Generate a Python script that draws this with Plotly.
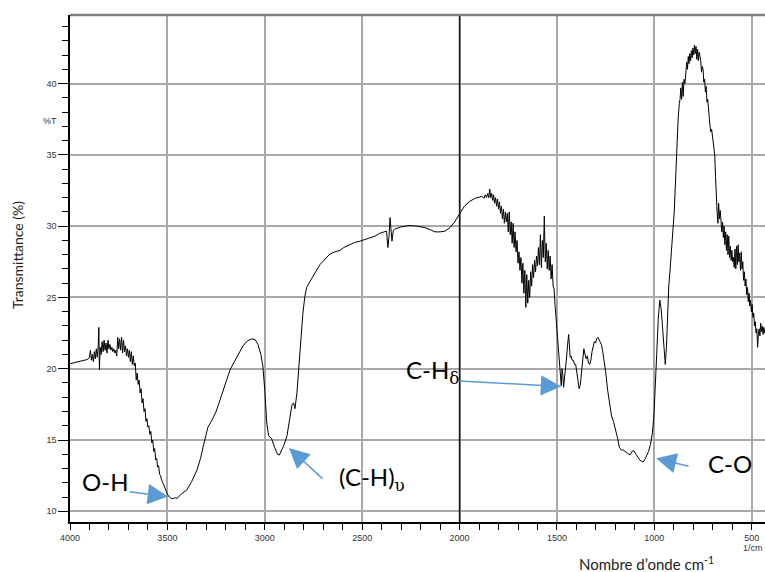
import plotly.graph_objects as go

# IR spectrum: wavenumber (cm-1) and transmittance (%T)
wavenumber = [
    4000, 3985, 3965, 3945, 3925, 3910, 3900, 3895, 3890, 3885, 3880, 3875, 3870, 3865, 3860, 3855,
    3852, 3849, 3845, 3840, 3835, 3830, 3825, 3820, 3815, 3810, 3805, 3800, 3795, 3790, 3785, 3780,
    3775, 3770, 3765, 3760, 3755, 3750, 3745, 3740, 3735, 3730, 3725, 3720, 3715, 3710, 3705, 3700,
    3695, 3690, 3685, 3680, 3675, 3670,
    3665, 3660, 3655, 3650, 3645, 3640, 3635, 3630, 3625, 3620, 3615, 3610, 3605, 3600, 3595, 3590,
    3585, 3580, 3575, 3570, 3565, 3560, 3555, 3550, 3545, 3540, 3535, 3530, 3520, 3510, 3500, 3490,
    3480, 3470, 3460, 3450, 3440, 3430, 3400, 3375, 3348, 3330, 3317, 3300, 3292, 3271, 3250, 3230,
    3205, 3179, 3160, 3143, 3112, 3090, 3066, 3050, 3035, 3020, 3010, 3000, 2990, 2980, 2965, 2950,
    2935, 2925, 2912, 2900, 2886, 2870, 2860, 2852, 2845, 2835, 2825, 2815, 2805, 2795, 2785, 2773,
    2753, 2735, 2717, 2690, 2665, 2640, 2614, 2595, 2578, 2560, 2540, 2511, 2480, 2450, 2434, 2410,
    2390, 2375, 2368, 2362, 2357, 2352, 2347, 2340, 2332, 2300, 2255, 2220, 2178, 2150, 2126, 2100,
    2075, 2049, 2025, 1998, 1975, 1947, 1920, 1895,
    1885, 1875, 1868, 1862, 1855, 1850, 1845, 1840, 1835, 1830, 1825, 1820, 1815, 1810, 1805, 1800,
    1795, 1790, 1785, 1780, 1775, 1770, 1765, 1760, 1755, 1750, 1745, 1740, 1735, 1730, 1725, 1720,
    1715, 1710, 1705, 1700, 1695, 1690, 1685, 1680, 1675, 1670, 1665, 1660, 1655, 1650, 1645, 1640,
    1635, 1630, 1625, 1620, 1615, 1610, 1605, 1600, 1595, 1590, 1585, 1580, 1575, 1570, 1565, 1560,
    1555, 1550, 1545, 1540, 1535, 1530, 1525, 1520, 1515, 1510, 1500, 1492, 1485, 1478, 1474, 1470,
    1466, 1462, 1458, 1452, 1446, 1440, 1436, 1432, 1428, 1422, 1416, 1410, 1404, 1398, 1392, 1386,
    1380, 1374, 1368, 1362, 1356, 1350, 1344, 1338, 1332, 1326, 1320, 1314, 1308, 1302, 1296, 1290,
    1284, 1278, 1272, 1266, 1260, 1250, 1240, 1230, 1220, 1210, 1200, 1190, 1180, 1170, 1160, 1150,
    1142, 1134, 1125, 1115, 1105, 1095, 1085, 1075, 1065, 1058, 1050, 1040, 1030, 1020, 1010, 1002,
    995, 988, 980, 972, 965, 958, 950, 944, 938, 932, 926, 920, 912, 905, 898, 890,
    884, 878, 872, 868, 864, 860, 856, 852, 848, 843, 838, 834, 830, 826, 822, 818,
    814, 810, 806, 802, 798, 794, 790, 786, 782, 778, 774, 770, 766, 762, 758, 754,
    750, 746, 742, 738, 734, 730, 726, 722, 718, 714, 710, 706, 702, 698, 694, 690,
    686, 682, 678, 674, 670, 666, 662, 658, 654, 650, 646, 642, 638, 634, 630, 626,
    622, 618, 614, 610, 606, 602, 598, 594, 590, 586, 582, 578, 574, 570, 566, 562,
    558, 554, 550, 546, 542, 538, 534, 530, 526, 522, 518, 514, 510, 506, 502, 498,
    494, 490, 486, 482, 478, 474, 470, 466, 462, 458, 454, 450, 446, 442, 438, 434, 430,
]

transmittance = [
    20.35, 20.4, 20.45, 20.5, 20.6, 20.65, 20.8, 21.3, 20.6, 21.0, 20.5, 21.2, 20.7, 21.4, 20.8, 21.6,
    22.9, 19.95, 21.5, 21.0, 21.9, 21.2, 22.0, 21.3, 21.8, 21.1, 22.0, 21.4, 21.7, 21.3, 21.5, 21.2,
    21.4, 21.1, 21.3, 20.9, 22.2, 21.4, 22.1, 21.3, 22.2, 21.1, 22.0, 21.2, 21.6, 20.9, 21.4, 20.8,
    21.3, 20.5, 21.2, 20.3, 20.9, 20.2,
    20.4, 19.2, 19.7, 18.9, 19.2, 18.3, 18.6, 17.6, 17.9, 17.0, 17.2, 16.3, 16.5, 15.9, 16.0, 15.4,
    15.6, 14.8, 15.0, 14.2, 14.4, 13.6, 13.7, 13.1, 13.2, 12.6, 12.5, 12.2, 11.9, 11.5, 11.2, 11.0,
    10.9, 10.9, 10.95, 10.9, 11.05, 11.2, 11.5, 12.1, 12.9, 13.7, 14.5, 15.4, 15.9, 16.4, 17.0, 17.8,
    18.9, 19.9, 20.4, 20.8, 21.6, 21.95, 22.1, 22.05, 21.7, 21.0, 20.2, 18.5, 16.2, 15.3, 15.1, 14.5,
    14.0, 13.95, 14.3, 14.7, 15.3, 16.6, 17.5, 17.6, 17.2, 18.3, 20.3, 22.2, 23.8, 25.0, 25.7, 26.0,
    26.5, 26.9, 27.3, 27.7, 28.05, 28.2, 28.3, 28.5, 28.6, 28.75, 28.85, 28.95, 29.1, 29.25, 29.3, 29.5,
    29.6, 29.65, 28.5, 29.3, 30.6, 29.4, 28.95, 29.7, 29.8, 29.95, 30.05, 30.0, 29.9, 29.75, 29.6, 29.6,
    29.65, 29.9, 30.3, 30.9, 31.4, 31.75, 31.95, 32.05,
    32.1, 31.95, 32.2, 32.0, 32.3, 32.0, 32.6, 32.0, 32.3, 31.8, 32.2, 31.6, 32.0, 31.4, 31.9, 31.2,
    31.7, 30.9, 31.4, 30.5, 31.2, 30.2, 31.0, 30.3, 30.9, 29.6, 31.0, 29.4, 30.3, 28.8, 30.2, 28.5,
    29.6, 28.2, 29.0, 27.4, 28.2, 26.9, 27.8, 26.0, 27.4, 25.3, 26.9, 24.3, 26.6, 24.6, 26.2, 25.0,
    26.8, 25.8, 27.3, 26.4, 27.6, 26.8, 27.9, 27.2, 28.5, 27.3, 29.4, 27.1, 29.0, 27.8, 30.7, 27.5,
    28.8, 27.0, 28.3, 26.9, 27.9, 26.3, 27.3, 25.8, 25.6, 24.5, 22.8, 21.3, 20.0, 18.8, 20.0, 19.6,
    18.7, 19.4, 20.2, 20.6, 21.6, 22.4, 21.6, 20.8, 20.9, 20.6, 20.6, 20.3, 20.3, 19.8, 19.0, 18.6,
    18.9, 19.8, 20.8, 21.4, 21.0, 20.7, 20.9, 20.4, 20.3, 20.6, 21.2, 21.5, 21.9, 21.8, 22.1, 22.2,
    22.0, 21.8, 21.7, 21.3, 20.8, 19.8, 18.5, 17.5, 16.7, 16.3, 15.8, 15.2, 14.5, 14.3, 14.3, 14.2,
    14.1, 14.0, 13.95, 14.2, 14.25, 14.0, 13.8, 13.6, 13.5, 13.45, 13.6, 13.9, 14.2, 14.7, 15.5, 16.8,
    18.5, 21.0, 23.5, 24.8, 24.2, 22.8, 21.2, 20.3, 21.5, 24.0, 25.8, 26.8, 28.3, 29.6, 31.0, 33.6,
    36.2, 37.5, 38.6, 38.9, 39.7, 38.9, 40.1, 39.1, 40.3, 40.0, 40.8, 41.5, 41.0, 41.9, 41.4, 42.1,
    41.6, 42.3, 41.8, 42.5, 42.0, 42.7, 42.1, 42.6, 41.7, 42.4, 41.6, 42.2, 41.9, 41.6, 40.8, 41.2,
    41.0, 40.1, 40.3, 39.4, 39.8, 38.7, 38.9, 37.9, 37.6, 37.0, 36.6, 36.8, 36.3, 35.9, 35.5, 35.0,
    33.5, 31.8, 31.0, 30.2, 31.6, 30.5, 31.1, 30.4, 29.6, 30.3, 29.2, 30.0, 28.7, 29.6, 28.3, 29.4,
    28.0, 29.3, 27.8, 28.6, 27.6, 28.3, 27.5, 27.8, 27.1, 28.4, 27.0, 28.6, 27.3, 28.7, 27.5, 28.1,
    26.9, 28.2, 27.0, 27.5, 26.2, 26.8, 25.8, 26.3, 25.2, 25.7, 24.7, 25.3, 24.4, 24.8, 24.0, 24.5,
    23.6, 23.9, 23.0, 23.3, 22.5, 22.8, 21.5, 22.4, 22.8, 22.3, 23.2, 22.6, 23.0, 22.4, 22.9, 22.5, 22.8,
]

x_ticks = [4000, 3500, 3000, 2500, 2000, 1500, 1000, 500]
y_ticks = [10, 15, 20, 25, 30, 35, 40]

SERIF = '<span style="font-family:DejaVu Serif, Liberation Serif, serif">'

# Band assignments: label, arrow tip (x, y), arrow tail (x, y), label anchor (x, y)
band_labels = ["O-H", "(C-H)<sub>" + SERIF + "υ</span></sub>", "C-H<sub>" + SERIF + "δ</span></sub>", "C-O"]
tip_x = [3497, 2876, 1479, 991]
tip_y = [11.03, 14.44, 18.75, 13.72]
tail_x = [3702, 2696, 2008, 817]
tail_y = [11.38, 12.2, 19.15, 13.13]
label_x = [3948, 2630, 2285, 736]
label_y = [12.06, 12.27, 19.78, 13.32]

ARROW_BLUE = "#5b9bd5"
GRID = "#a8a8a8"

fig = go.Figure()
fig.add_trace(go.Scatter(
    x=wavenumber, y=transmittance, mode="lines",
    line=dict(color="black", width=1), showlegend=False, hoverinfo="skip",
))

annotations = []
for lab, tx, ty, ax_, ay_, lx, ly in zip(band_labels, tip_x, tip_y, tail_x, tail_y, label_x, label_y):
    annotations.append(dict(
        x=tx, y=ty, ax=ax_, ay=ay_, xref="x", yref="y", axref="x", ayref="y",
        text="", showarrow=True, arrowhead=2, arrowsize=2.7, arrowwidth=1.5,
        arrowcolor=ARROW_BLUE, standoff=0,
    ))
    annotations.append(dict(
        x=lx, y=ly, xref="x", yref="y", text=lab, showarrow=False,
        xanchor="left", yanchor="middle",
        font=dict(family="Lato, Liberation Sans, sans-serif", size=24, color="black"),
    ))

# free labels, positioned in pixels and converted to paper coordinates below
free_labels = [
    dict(x=17, y=255, text="Transmittance (%)", textangle=-90,
         font=dict(family="Lato, Liberation Sans, sans-serif", size=14, color="#222")),
    dict(x=50, y=121, text="%T",
         font=dict(family="Liberation Sans, Arial, sans-serif", size=9, color="#333")),
    dict(x=646, y=563, text="Nombre d’onde cm<sup>-1</sup>",
         font=dict(family="Lato, Liberation Sans, sans-serif", size=15, color="#222")),
    dict(x=765, y=548, text="1/cm", xanchor="right",
         font=dict(family="Liberation Sans, Arial, sans-serif", size=9, color="#333")),
]

W, H = 765, 572
ML, MR, MT, MB = 70, 0, 15, 50
pw, ph = W - ML - MR, H - MT - MB
for a in free_labels:
    a["x"] = (a["x"] - ML) / pw
    a["y"] = (H - MB - a["y"]) / ph
    a.setdefault("xanchor", "center")
    a["yanchor"] = "middle"
    a.update(xref="paper", yref="paper", showarrow=False)
    annotations.append(a)

fig.update_layout(
    width=W, height=H,
    margin=dict(l=ML, r=MR, t=MT, b=MB, pad=0),
    plot_bgcolor="white", paper_bgcolor="white",
    annotations=annotations,
    shapes=[
        dict(type="line", xref="x", yref="paper", x0=2000, x1=2000, y0=0, y1=1,
             line=dict(color="#111", width=1.5)),
        dict(type="line", xref="paper", yref="paper", x0=0, x1=1, y0=1, y1=1,
             line=dict(color="#808080", width=2.5)),
    ],
    xaxis=dict(
        range=[4000, 432], tickvals=x_ticks, ticktext=[str(v) for v in x_ticks],
        showgrid=True, gridcolor=GRID, gridwidth=1.5, zeroline=False,
        showline=True, linecolor="black", linewidth=1.5,
        ticks="outside", ticklen=6, tickcolor="black", tickwidth=1,
        minor=dict(dtick=100, tick0=0, ticks="outside", ticklen=6, tickcolor="black", showgrid=False),
        tickfont=dict(family="Liberation Sans, Arial, sans-serif", size=9, color="#333"),
    ),
    yaxis=dict(
        range=[9.25, 44.81], tickvals=y_ticks, ticktext=[str(v) for v in y_ticks],
        showgrid=True, gridcolor=GRID, gridwidth=1.5, zeroline=False,
        showline=True, linecolor="black", linewidth=1.5,
        ticks="outside", ticklen=10, tickcolor="black", tickwidth=1,
        minor=dict(dtick=1, tick0=0, ticks="outside", ticklen=6, tickcolor="black", showgrid=False),
        tickfont=dict(family="Liberation Sans, Arial, sans-serif", size=9, color="#333"),
    ),
)

fig.write_html("out.html")
